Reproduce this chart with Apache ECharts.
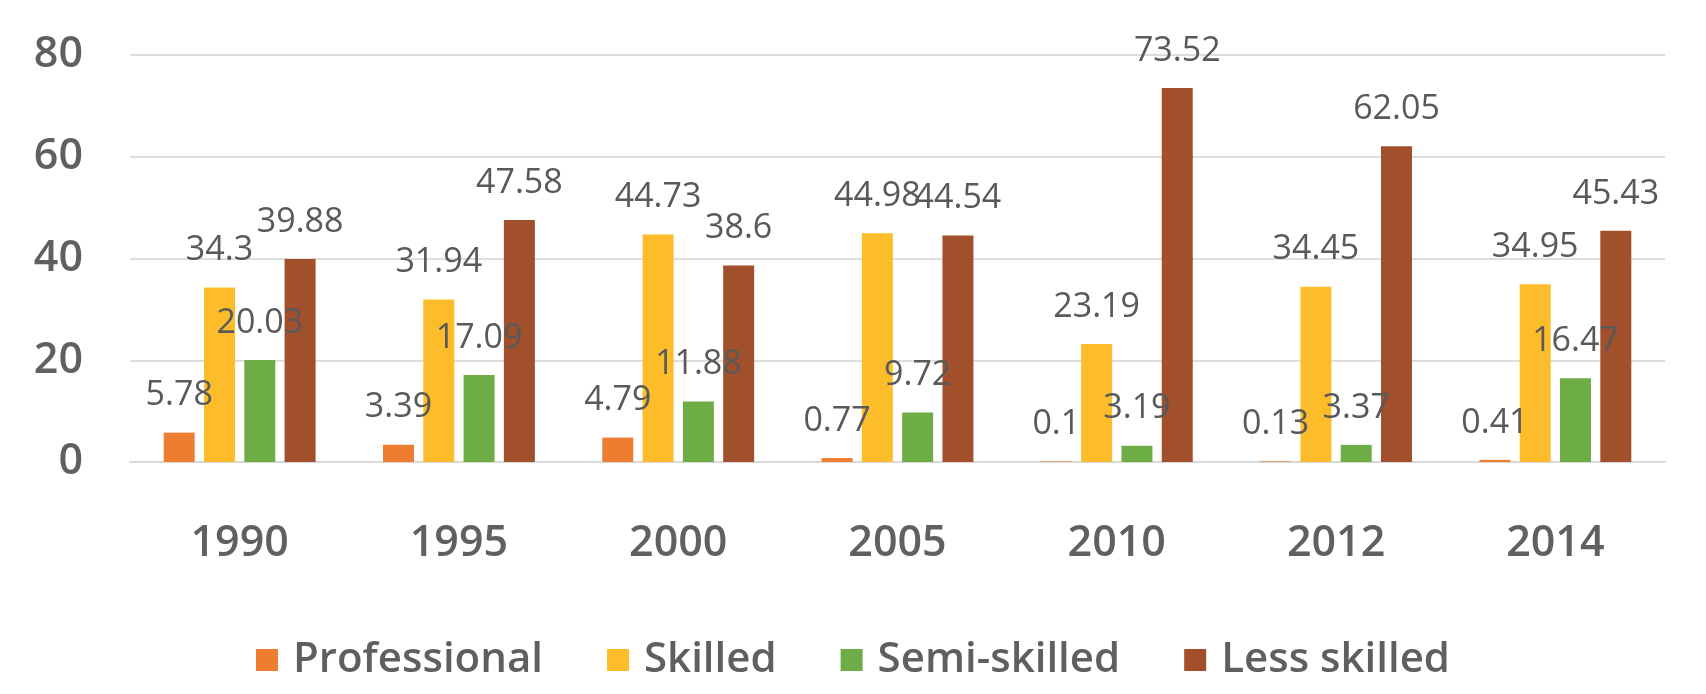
<!DOCTYPE html>
<html>
<head>
<meta charset="utf-8">
<script src="https://cdn.jsdelivr.net/npm/echarts@6/dist/echarts.min.js"></script>
<style>
  html, body { margin: 0; padding: 0; background: #ffffff; }
  #chart { width: 1706px; height: 694px; }
</style>
</head>
<body>
<div id="chart"></div>
<script>
// Years on the category axis
const years = ['1990', '1995', '2000', '2005', '2010', '2012', '2014'];

// Share of workers by skill level (%)
const professional = [5.78, 3.39, 4.79, 0.77, 0.1, 0.13, 0.41];
const skilled      = [34.3, 31.94, 44.73, 44.98, 23.19, 34.45, 34.95];
const semiSkilled  = [20.03, 17.09, 11.88, 9.72, 3.19, 3.37, 16.47];
const lessSkilled  = [39.88, 47.58, 38.6, 44.54, 73.52, 62.05, 45.43];

const seriesNames = ['Professional', 'Skilled', 'Semi-skilled', 'Less skilled'];
const seriesData = [professional, skilled, semiSkilled, lessSkilled];
const colors = ['#ED7D31', '#FDBD2A', '#6EAD46', '#A24F2C'];

const FONT = '"Open Sans", "Liberation Sans", sans-serif';

const chart = echarts.init(document.getElementById('chart'));

chart.setOption({
  animation: false,
  backgroundColor: '#ffffff',
  color: colors,
  grid: { left: 130, right: 41, top: 55, bottom: 232, containLabel: false },
  legend: {
    data: seriesNames,
    bottom: 8,
    left: 'center',
    itemWidth: 22,
    itemHeight: 22,
    itemGap: 64,
    icon: 'rect',
    textStyle: {
      fontFamily: FONT,
      fontSize: 42,
      fontWeight: 600,
      color: '#5f5f5f',
      padding: [0, 0, 0, 10]
    }
  },
  xAxis: {
    type: 'category',
    data: years,
    axisLine: { show: true, lineStyle: { color: '#D9D9D9', width: 2 } },
    axisTick: { show: false },
    axisLabel: {
      margin: 60,
      fontFamily: FONT,
      fontSize: 43,
      fontWeight: 600,
      color: '#606060'
    }
  },
  yAxis: {
    type: 'value',
    min: 0,
    max: 80,
    interval: 20,
    axisLine: { show: false },
    axisTick: { show: false },
    splitLine: { lineStyle: { color: '#DEDEDE', width: 2 } },
    axisLabel: {
      margin: 47,
      fontFamily: FONT,
      fontSize: 43,
      fontWeight: 600,
      color: '#606060'
    }
  },
  series: seriesNames.map((name, i) => ({
    name: name,
    type: 'bar',
    data: seriesData[i],
    barWidth: 31,
    barGap: '30%',
    itemStyle: { color: colors[i] },
    label: {
      show: true,
      position: 'top',
      distance: 20,
      fontFamily: FONT,
      fontSize: 34,
      color: '#595959'
    }
  }))
});
</script>
</body>
</html>
